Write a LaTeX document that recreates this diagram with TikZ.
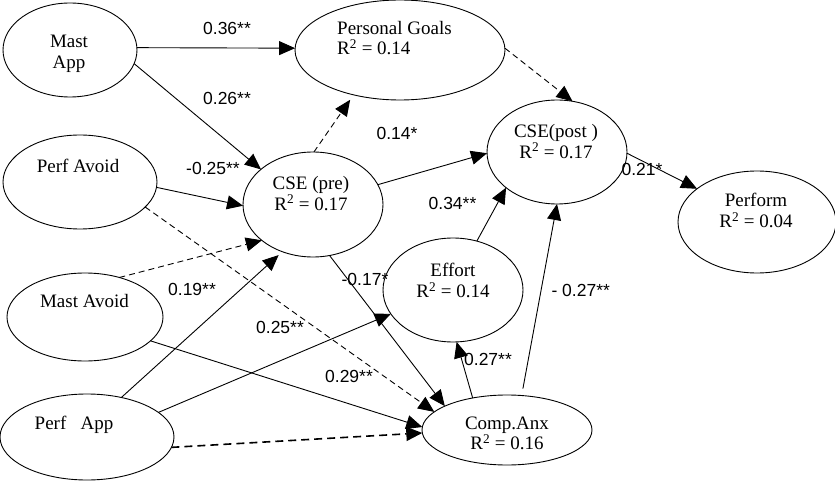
\documentclass[tikz,border=0pt]{standalone}
\usepackage{fontspec}
\setmainfont{Liberation Serif}
\newfontfamily\labfont{Liberation Sans}
\usetikzlibrary{arrows.meta,shapes.geometric}
\tikzset{
  ell/.style={draw, ellipse, line width=0.9pt, inner sep=0pt, outer sep=0pt},
  ntext/.style={font=\fontsize{19}{20.5}\selectfont, align=center, inner sep=0pt},
  lab/.style={font=\labfont\fontsize{17.5}{20}\selectfont, inner sep=0pt},
  arr/.style={line width=0.9pt, -{Triangle[length=16pt,width=14pt]}},
  darr/.style={arr, dash pattern=on 6pt off 4pt},
  tdarr/.style={line width=1.6pt, dash pattern=on 8pt off 5pt, -{Triangle[length=16pt,width=14pt]}},
}
\begin{document}
\begin{tikzpicture}[x=1pt,y=-1pt]
\useasboundingbox (0,0) rectangle (835,481);
% ellipses
\node[ell, minimum width=134pt, minimum height=94pt] (ma) at (70,50) {};
\node[ell, minimum width=210pt, minimum height=100pt] (pg) at (400,50) {};
\node[ell, minimum width=154pt, minimum height=94pt] (pa) at (80,182) {};
\node[ell, minimum width=140pt, minimum height=105pt] (cpre) at (313,204.5) {};
\node[ell, minimum width=140pt, minimum height=104pt] (cpost) at (557,152) {};
\node[ell, minimum width=158pt, minimum height=102pt] (pf) at (757,222) {};
\node[ell, minimum width=140pt, minimum height=104pt] (ef) at (453,290) {};
\node[ell, minimum width=170pt, minimum height=70pt] (ca) at (507,430) {};
\node[ell, minimum width=156pt, minimum height=88pt] (mav) at (85,317) {};
\node[ell, minimum width=174pt, minimum height=86pt] (pap) at (87,437) {};
% texts
\node[ntext] (t-ma) at (69,54) {Mast\\App};
\node[ntext, align=left, anchor=west] (t-pg) at (337,38) {Personal Goals\\R\textsuperscript{2} = 0.14};
\node[ntext] (t-pa) at (78,165.5) {Perf Avoid};
\node[ntext] (t-cpre) at (311,193.5) {CSE (pre)\\R\textsuperscript{2} = 0.17};
\node[ntext] (t-cpost) at (556,141.5) {CSE(post )\\R\textsuperscript{2} = 0.17};
\node[ntext] (t-pf) at (756,210.5) {Perform\\R\textsuperscript{2} = 0.04};
\node[ntext] (t-ef) at (453,280.5) {Effort\\R\textsuperscript{2} = 0.14};
\node[ntext] (t-ca) at (507,433.5) {Comp.Anx\\R\textsuperscript{2} = 0.16};
\node[ntext] (t-mav) at (84.5,301.5) {Mast Avoid};
\node[ntext] (t-pap) at (74,424.5) {Perf\ \ \ App};
% connectors
\draw[arr] (ma.2) -- (pg.179);
\draw[arr] (ma.-12) -- (cpre.146);
\draw[arr] (pa.-4.5) -- (cpre.181);
\draw[darr] (pa.-21) -- (ca.166);
\draw[darr] (mav.49) -- (cpre.215);
\draw[arr, shorten >=5pt] (pap.49) -- (cpre.237);
\draw[arr] (pap.19) -- (ef.201);
\draw[arr] (mav.-20) -- (ca.178);
\draw[tdarr] (pap.-7) -- (ca.182);
\draw[arr] (cpre.-72) -- (ca.159);
\draw[darr, shorten >=6pt] (cpre.89) -- (pg.224);
\draw[arr] (cpre.17) -- (cpost.181);
\draw[darr] (pg.1) -- (cpost.73);
\draw[arr] (ef.64) -- (cpost.215);
\draw[arr, shorten <=7pt] (ca.67) -- (cpost.270);
\draw[arr] (ca.137) -- (ef.274);
\draw[arr] (cpost.-1) -- (pf.151);
% labels
\node[lab] (l1) at (227,28.3) {0.36**};
\node[lab] (l2) at (227,98) {0.26**};
\node[lab] (l3) at (213,168) {-0.25**};
\node[lab] (l4) at (397,133) {0.14*};
\node[lab] (l5) at (452.5,203) {0.34**};
\node[lab] (l6) at (642,169) {0.21*};
\node[lab] (l7) at (365,279) {-0.17*};
\node[lab] (l8) at (192,289) {0.19**};
\node[lab] (l9) at (280,327) {0.25**};
\node[lab] (l10) at (349,376) {0.29**};
\node[lab] (l11) at (580.7,290.7) {- 0.27**};
\node[lab] (l12) at (488,359) {0.27**};
\end{tikzpicture}
\end{document}
